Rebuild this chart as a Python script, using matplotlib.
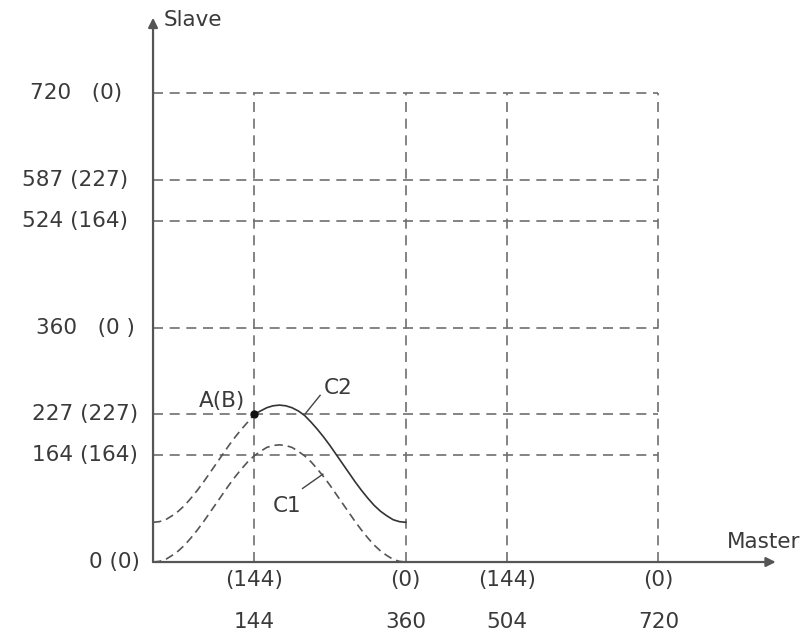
import numpy as np
import matplotlib
matplotlib.use('Agg')
import matplotlib.pyplot as plt

# master positions of grid lines and their labels
master_ticks = [144, 360, 504, 720]
master_sub = ['(144)', '(0)', '(144)', '(0)']
# slave positions of grid lines and their labels
slave_ticks = [0, 164, 227, 360, 524, 587, 720]
slave_labels = ['0 (0)', '164 (164)', '227 (227)', '360   (0 )', '524 (164)', '587 (227)', '720   (0)']

# cam curves
curve_x = [0, 9, 18, 27, 36, 45, 54, 63, 72, 81, 90, 99, 108, 117, 126, 135, 144, 153, 162, 171, 180,
           189, 198, 207, 216, 225, 234, 243, 252, 261, 270, 279, 288, 297, 306, 315, 324, 333, 342, 351, 360]
c1_y = [0, 1, 4, 10, 17, 26, 37, 49, 62, 76, 90, 104, 118, 131, 143, 154, 163, 170, 176, 179, 180,
        179, 176, 170, 163, 154, 143, 131, 118, 104, 90, 76, 62, 49, 37, 26, 17, 10, 4, 1, 0]
c2_y = [61, 62, 65, 71, 78, 87, 98, 110, 123, 137, 151, 165, 179, 192, 204, 215, 227, 232, 237, 240, 241,
        240, 237, 232, 225, 215, 204, 192, 179, 165, 151, 137, 123, 110, 98, 87, 78, 71, 65, 62, 61]

plt.rcParams['font.family'] = ['DejaVu Sans']
txt = '#3a3a3a'
grid_c = '#6e6e6e'
fs = 15.5

fig = plt.figure(figsize=(8.12, 6.32), dpi=100)
ax = fig.add_axes([0, 0, 1, 1])
ax.set_xlim(-218, 938.7)
ax.set_ylim(-107.5, 863.3)
ax.axis('off')

dash = (0, (6, 4))
top = slave_ticks[-1]
right = master_ticks[-1]
for x in master_ticks:
    ax.plot([x, x], [0, top], color=grid_c, lw=1.2, linestyle=dash)
for y in slave_ticks[1:]:
    ax.plot([0, right], [y, y], color=grid_c, lw=1.2, linestyle=dash)

# axes with arrows
ax.annotate('', xy=(887, 0), xytext=(0, 0),
            arrowprops=dict(arrowstyle='-|>', color='#555555', lw=1.6, mutation_scale=14, shrinkA=0, shrinkB=0))
ax.annotate('', xy=(0, 836), xytext=(0, 0),
            arrowprops=dict(arrowstyle='-|>', color='#555555', lw=1.6, mutation_scale=14, shrinkA=0, shrinkB=0))
ax.text(15, 832, 'Slave', fontsize=fs, color=txt, ha='left', va='center')
ax.text(818, 31, 'Master', fontsize=fs, color=txt, ha='left', va='center')

# curves
cx = np.array(curve_x)
ax.plot(cx, c1_y, color='#555555', lw=1.2, linestyle=(0, (5, 3)))
c2 = np.array(c2_y)
ax.plot(cx[cx <= 144], c2[cx <= 144], color='#555555', lw=1.2, linestyle=(0, (5, 3)))
ax.plot(cx[cx >= 144], c2[cx >= 144], color='#333333', lw=1.2)
ax.plot([144], [227], 'o', color='#111111', ms=5)

ax.text(98, 248, 'A(B)', fontsize=fs, color=txt, ha='center', va='center')
ax.text(263, 268, 'C2', fontsize=fs, color=txt, ha='center', va='center')
ax.plot([217, 238], [228, 256], color='#444444', lw=1)
ax.text(191, 86, 'C1', fontsize=fs, color=txt, ha='center', va='center')
ax.plot([213, 242], [113, 135], color='#444444', lw=1)

# slave labels left of axis
label_right = [-19, -21, -21, -26, -36, -36, -44]
for y, lab, xr in zip(slave_ticks, slave_labels, label_right):
    ax.text(xr, y, lab, fontsize=fs, color=txt, ha='right', va='center')

# master labels
for x, sub in zip(master_ticks, master_sub):
    ax.text(x, -28, sub, fontsize=fs, color=txt, ha='center', va='center')
    ax.text(x, -92, str(x), fontsize=fs, color=txt, ha='center', va='center')

fig.savefig('out.png', dpi=100)
